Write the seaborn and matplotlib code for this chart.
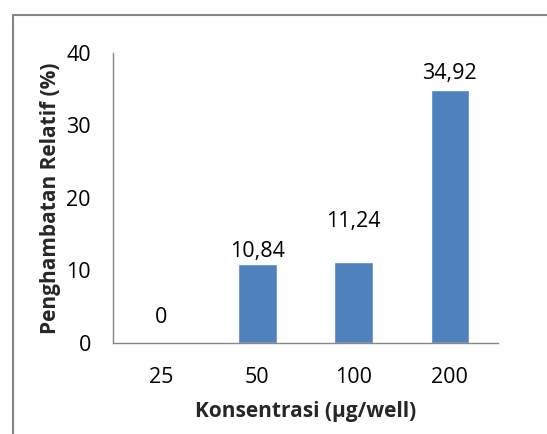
import matplotlib
matplotlib.use("Agg")
import matplotlib.pyplot as plt
import matplotlib.patches as patches
import seaborn as sns
import pandas as pd

# data
konsentrasi = ["25", "50", "100", "200"]
penghambatan = [0, 10.84, 11.24, 34.92]
label_teks = ["0", "10,84", "11,24", "34,92"]
# label offsets above bar top (points), labels were moved by hand in the original
label_pad = [11, 1.5, 21, 4.5]

df = pd.DataFrame({"Konsentrasi": konsentrasi, "Penghambatan": penghambatan})

sns.set_style("white")
plt.rcParams["font.family"] = ["Open Sans", "DejaVu Sans"]

grey = "#868686"
bar_color = "#4F81BD"

fig = plt.figure(figsize=(5.47, 4.34), dpi=100)
ax = fig.add_axes([0.2066, 0.2097, 0.7038, 0.6682])

sns.barplot(data=df, x="Konsentrasi", y="Penghambatan", order=konsentrasi,
            color=bar_color, width=0.4, saturation=1, ax=ax)

# data labels above bars
for bar, teks, pad in zip(ax.patches, label_teks, label_pad):
    ax.annotate(teks, (bar.get_x() + bar.get_width() / 2, bar.get_height()),
                xytext=(0, pad), textcoords="offset points",
                ha="center", va="bottom", fontsize=15.5, color="black")

ax.set_ylim(0, 40)
ax.set_yticks([0, 10, 20, 30, 40])
ax.set_xlim(-0.5, 3.5)

# category boundary ticks like Excel
ax.set_xticks([-0.5, 0.5, 1.5, 2.5, 3.5], minor=True)
ax.tick_params(axis="x", which="major", length=0, pad=17, labelsize=15.5, colors="black")
ax.tick_params(axis="x", which="minor", length=7, width=1, color=grey, direction="out")
ax.tick_params(axis="y", which="major", length=6, width=1, color=grey, direction="out",
               labelsize=15.5, labelcolor="black", pad=10)

for side in ["top", "right"]:
    ax.spines[side].set_visible(False)
for side in ["left", "bottom"]:
    ax.spines[side].set_color(grey)
    ax.spines[side].set_linewidth(1)

ax.set_xlabel("Konsentrasi (µg/well)", fontsize=15, fontweight="bold", labelpad=10)
ax.set_ylabel("Penghambatan Relatif (%)", fontsize=15, fontweight="bold", labelpad=4)

# chart area border
fig.patches.append(patches.Rectangle((13 / 547, -0.1), 1.2, 0.1 + 1 - 15 / 434,
                                     transform=fig.transFigure, fill=False,
                                     edgecolor=grey, linewidth=1.5))

fig.savefig("out.png", dpi=100)
